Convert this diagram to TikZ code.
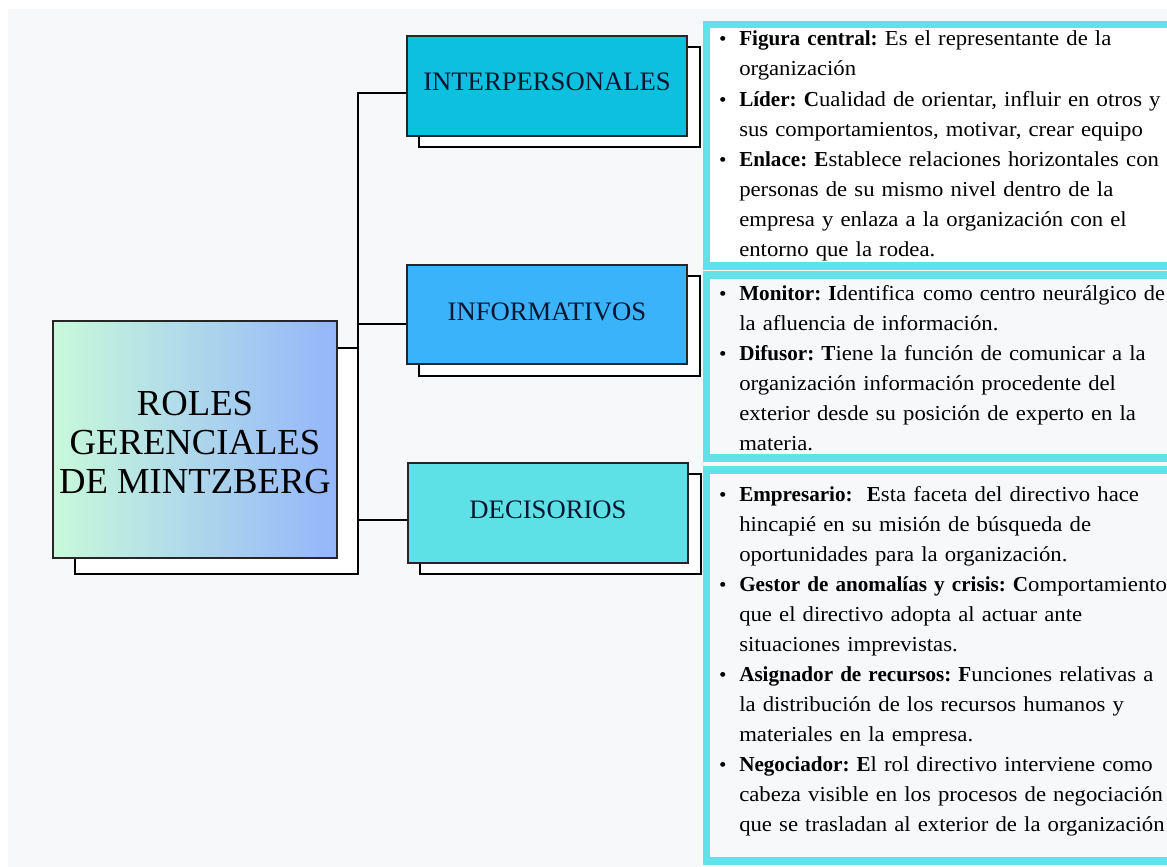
\documentclass[tikz,border=0pt]{standalone}
\usepackage{fontspec}
\setmainfont{Liberation Serif}
\newfontfamily\bodyfont[FakeStretch=1.065, BoldFeatures={FakeStretch=0.99}]{Liberation Serif}
\newfontfamily\bodynarrow[FakeStretch=1.045]{Liberation Serif}
\definecolor{bg}{HTML}{F7F8FA}
\definecolor{intc}{HTML}{0DC0E0}
\definecolor{infc}{HTML}{3BB3FA}
\definecolor{decc}{HTML}{5EE1E6}
\definecolor{panelc}{HTML}{5FE3E8}
\definecolor{gradl}{HTML}{C8F9DA}
\definecolor{gradr}{HTML}{93B6FB}
\definecolor{labc}{HTML}{0B1530}
\newcommand{\bul}{\leavevmode\llap{{\fontsize{15}{15}\selectfont\textbullet}\hspace{9.5pt}}}
\begin{document}
\begin{tikzpicture}[x=0.75pt,y=-0.75pt,
  catbox/.style={draw=black!85, line width=1.5pt, inner sep=0pt, minimum width=210pt, minimum height=75pt},
  shadowbox/.style={draw=black, fill=white, line width=1.5pt, inner sep=0pt},
  conn/.style={draw=black, line width=1.5pt},
  panelbox/.style={draw=panelc, line width=5.4pt, inner sep=0pt},
  cattext/.style={font=\fontsize{20}{22}\selectfont, text=labc, anchor=base, inner sep=0pt},
  bodytext/.style={font=\bodyfont\fontsize{16}{22.5}\selectfont\frenchspacing, anchor=base west, inner sep=0pt, text width=420pt, align=left}
]
\useasboundingbox (0,0) rectangle (1167,867);
\clip (0,0) rectangle (1167,867);
\fill[white] (0,0) rectangle (1167,867);
\fill[bg] (8,9) rectangle (1167,867);

% text panels
\node[panelbox, fill=white, minimum width=355pt, minimum height=181.1pt] (p1) at (943.25,145.25) {};
\node[panelbox, fill=bg, minimum width=355pt, minimum height=137.25pt] (p2) at (943.25,366.5) {};
\node[panelbox, fill=bg, minimum width=355pt, minimum height=293.25pt] (p3) at (943.25,665.5) {};

% shadows
\node[shadowbox, minimum width=212.25pt, minimum height=169.5pt] (mainsh) at (216.5,461) {};
\node[shadowbox, minimum width=210.75pt, minimum height=75pt] (intsh) at (559.5,97) {};
\node[shadowbox, minimum width=210.75pt, minimum height=75pt] (infsh) at (559.5,326) {};
\node[shadowbox, minimum width=210.75pt, minimum height=75pt] (decsh) at (560.5,524) {};

% main box
\node[draw=black!85, line width=1.5pt, left color=gradl, right color=gradr, inner sep=0pt,
      minimum width=213pt, minimum height=177.75pt] (main) at (195,439.5) {};
\node[font=\fontsize{27.5}{29.25}\selectfont, align=center, anchor=base, inner sep=0pt] (maint) at (195,493)
  {ROLES\\GERENCIALES\\DE MINTZBERG};

% category boxes
\node[catbox, fill=intc] (int) at (547,86) {};
\node[catbox, fill=infc, minimum height=74.25pt] (inf) at (547,314.5) {};
\node[catbox, fill=decc] (dec) at (548,513) {};
\node[cattext] (intt) at (547,91) {INTERPERSONALES};
\node[cattext] (inft) at (547,320) {INFORMATIVOS};
\node[cattext] (dect) at (548,518) {DECISORIOS};

% connectors
\coordinate (t1) at (358,93);
\coordinate (t2) at (358,324);
\coordinate (t3) at (358,520);
\coordinate (tb) at (358,574);
\draw[conn] (t1 -| int.west) -- (t1) -- (tb);
\draw[conn] (t2) -- (t2 -| inf.west);
\draw[conn] (t3) -- (t3 -| dec.west);

% panel texts
\node[bodytext] (txt1) at (739,46) {%
\bul\textbf{Figura central:} Es el representante de la\\
organización\\
\bul\textbf{Líder: C}ualidad de orientar, influir en otros y\\
sus comportamientos, motivar, crear equipo\\
\bul\textbf{Enlace: E}stablece relaciones horizontales con\\
personas de su mismo nivel dentro de la\\
empresa y enlaza a la organización con el\\
entorno que la rodea.};

\node[bodytext] (txt2) at (739,300) {%
\bul\textbf{Monitor: I}{\bodynarrow dentifica\hspace{0.4em}como centro neurálgico de}\\
la afluencia de información.\\
\bul\textbf{Difusor: T}iene la función de comunicar a la\\
organización información procedente del\\
exterior desde su posición de experto en la\\
materia.};

\node[bodytext] (txt3) at (739,501) {%
\bul\textbf{Empresario:\ \ E}sta faceta del directivo hace\\
hincapié en su misión de búsqueda de\\
oportunidades para la organización.\\
\bul\textbf{Gestor de anomalías y crisis: C}omportamiento\\
que el directivo adopta al actuar ante\\
situaciones imprevistas.\\
\bul\textbf{Asignador de recursos: F}unciones relativas a\\
la distribución de los recursos humanos y\\
materiales en la empresa.\\
\bul\textbf{Negociador: E}l rol directivo interviene como\\
cabeza visible en los procesos de negociación\\
que se trasladan al exterior de la organización};
\end{tikzpicture}
\end{document}
